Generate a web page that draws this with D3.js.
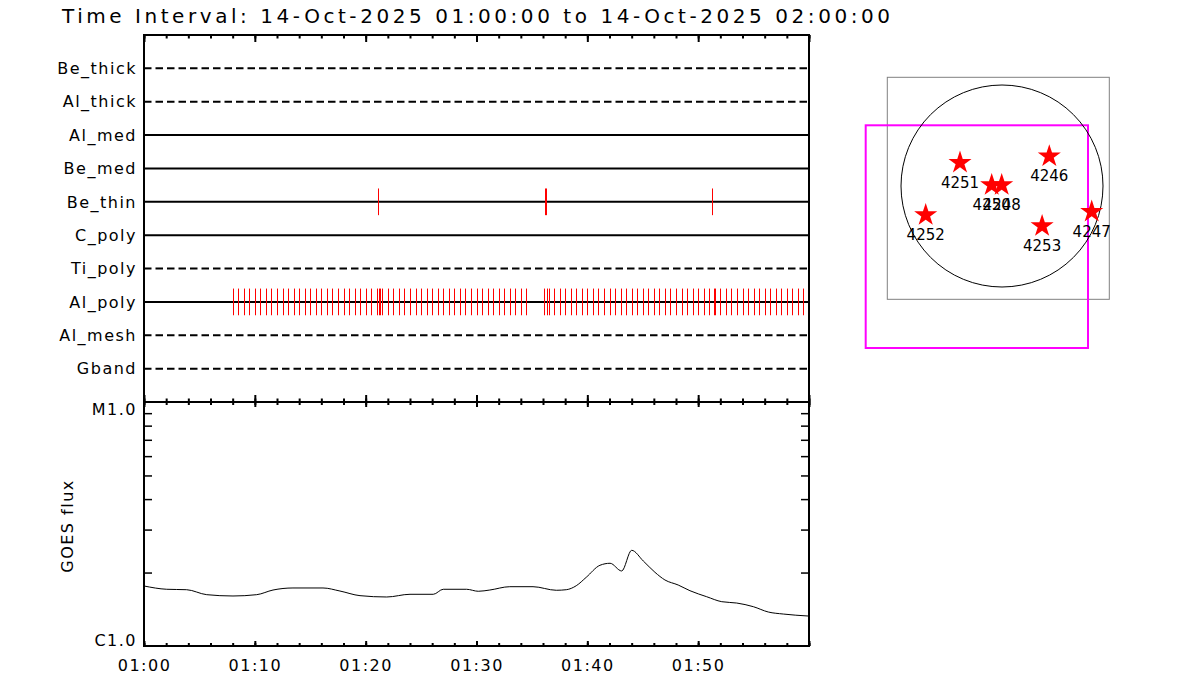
<!DOCTYPE html>
<html><head><meta charset="utf-8">
<script src="https://cdn.jsdelivr.net/npm/d3@7"></script>
<style>
body{margin:0;background:#fff}
svg{display:block}
text{font-family:"DejaVu Sans",sans-serif;fill:#000}
</style>
</head><body>
<svg id="chart" width="1200" height="700"></svg>
<script>
// ---------------- data ----------------
const titleText = "Time Interval: 14-Oct-2025 01:00:00 to 14-Oct-2025 02:00:00";
const startTime = "2025-10-14T01:00:00Z";
const endTime   = "2025-10-14T02:00:00Z";
const timeTickLabels = ["01:00","01:10","01:20","01:30","01:40","01:50"];

const filters     = ["Be_thick","Al_thick","Al_med","Be_med","Be_thin","C_poly","Ti_poly","Al_poly","Al_mesh","Gband"];
const filterWheel = [2, 2, 1, 1, 1, 1, 2, 1, 2, 2];

// observation times, minutes after start
const beThinObs = [21.15, 36.15, 36.23, 51.25];
const alPolyObs = [
  8,8.5,9,9.5,10,10.5,11,11.5,12,12.5,13,13.5,14,14.5,15,15.5,16,16.5,17,17.5,18,18.5,19,19.5,20,20.5,
  21,21.22,21.3,21.5,22,22.5,23,23.5,24,24.5,25,25.5,26,26.5,27,27.5,28,28.5,29,29.5,30,30.5,31,31.5,
  32,32.5,33,33.5,34,34.5,
  36.08,36.35,36.5,37,37.5,38,38.5,39,39.5,40,40.5,41,41.5,42,42.5,43,43.5,44,44.5,45,45.5,46,46.5,
  47,47.5,48,48.5,49,49.5,50,50.5,51,51.42,51.5,52,52.5,53,53.5,54,54.5,55,55.5,56,56.5,57,57.5,58,
  58.5,59,59.5
];

// GOES flux (W/m^2) vs minutes after start
const goesMinutes = [0,2.05,3.85,5.66,8.03,10.17,11.64,13.44,16.15,17.68,19.49,21.9,24.0,26.1,27.0,29.1,30.16,31.2,33.0,35.1,37.2,38.1,39.0,39.9,41.14,42.05,43.1,44.0,45.05,46.1,47.0,48.2,49.26,50.77,52.13,53.48,54.98,56.33,57.68,59.94];
const goesFlux = [1.762e-6,1.708e-6,1.701e-6,1.623e-6,1.603e-6,1.623e-6,1.696e-6,1.729e-6,1.729e-6,1.680e-6,1.608e-6,1.588e-6,1.629e-6,1.629e-6,1.708e-6,1.708e-6,1.676e-6,1.696e-6,1.75e-6,1.75e-6,1.692e-6,1.701e-6,1.766e-6,1.912e-6,2.142e-6,2.183e-6,2.030e-6,2.467e-6,2.230e-6,2.005e-6,1.865e-6,1.778e-6,1.685e-6,1.592e-6,1.519e-6,1.500e-6,1.449e-6,1.378e-6,1.352e-6,1.327e-6];
const goesDomain = [1e-6, 1e-5];
const goesLabelValues = [1e-6, 1e-5];
const goesLabels = ["C1.0", "M1.0"];
const goesMinorTicks = [2e-6,3e-6,4e-6,5e-6,6e-6,7e-6,8e-6,9e-6];
const goesAxisTitle = "GOES flux";

// Sun map (arcsec)
const solarRadius = 997;
const arNumbers = ["4251","4250","4248","4246","4252","4253","4247"];
const arX = [-414.6, -101.7, -3.0, 466.9, -753.2, 395.9, 885.5];
const arY = [239.9, 19.7, 19.7, 303.1, -276.4, -385.0, -243.8];
const fovNames = ["previous", "current"];
const fovX0 = [-1132.3, -1345.5];
const fovX1 = [1059.2, 848.9];
const fovY0 = [-1118.5, -1599.2];
const fovY1 = [1073.0, 599.2];

// ---------------- drawing ----------------
const svg = d3.select("#chart");
const L = 144, R = 809, T = 35, M = 402, B = 646;
const t0 = new Date(startTime), t1 = new Date(endTime);
const toDate = m => new Date(t0.getTime() + m * 60000);
const labelDates = timeTickLabels.map(s => new Date(startTime.slice(0, 11) + s + ":00Z"));

const x = d3.scaleUtc().domain([t0, t1]).range([L, R]);
const yRow = d3.scalePoint().domain(filters).range([T, M]).padding(1);
const yG = d3.scaleLog().domain(goesDomain).range([B, M]);
const halfTick = yRow.step() * 0.4;

// title
svg.append("text").attr("x", 62).attr("y", 23)
  .attr("font-size", 20).attr("textLength", 828).attr("lengthAdjust", "spacing")
  .text(titleText);

// filter rows
const rows = svg.append("g");
filters.forEach((f, i) => {
  rows.append("line")
    .attr("x1", L).attr("x2", R).attr("y1", yRow(f)).attr("y2", yRow(f))
    .attr("stroke", "#000").attr("stroke-width", 2)
    .attr("stroke-dasharray", filterWheel[i] === 2 ? "7.5,4" : null);
  rows.append("text")
    .attr("x", 137).attr("y", yRow(f)).attr("dy", "0.36em")
    .attr("text-anchor", "end").attr("font-size", 16).attr("letter-spacing", 1.5)
    .text(f);
});

function obsTicks(name, times) {
  const yc = yRow(name);
  svg.append("g").selectAll("line").data(times).join("line")
    .attr("x1", d => Math.round(x(toDate(d))) + 0.5)
    .attr("x2", d => Math.round(x(toDate(d))) + 0.5)
    .attr("y1", yc - halfTick).attr("y2", yc + halfTick)
    .attr("stroke", "#ff0000").attr("stroke-width", 1);
}
obsTicks("Be_thin", beThinObs);
obsTicks("Al_poly", alPolyObs);

// GOES curve
const goes = goesMinutes.map((m, i) => ({t: toDate(m), f: goesFlux[i]}));
svg.append("path").datum(goes)
  .attr("fill", "none").attr("stroke", "#000").attr("stroke-width", 1)
  .attr("d", d3.line().x(d => x(d.t)).y(d => yG(d.f)).curve(d3.curveMonotoneX));

// time axes (ticks inward)
const major = d3.utcMinute.every(10), minor = d3.utcMinute.every(2);
function tAxis(gen, y, size, interval) {
  svg.append("g").attr("transform", `translate(0,${y})`)
    .call(gen(x).ticks(interval).tickSize(size).tickFormat(""))
    .call(g => g.select(".domain").remove())
    .call(g => g.selectAll("line").attr("stroke", "#000").attr("stroke-width", 2));
}
tAxis(d3.axisBottom, T, 7, major);
tAxis(d3.axisBottom, T, 3.5, minor);
tAxis(d3.axisTop, M, 7, major);
tAxis(d3.axisTop, M, 3.5, minor);
tAxis(d3.axisBottom, M, 5, major);
tAxis(d3.axisBottom, M, 3, minor);
tAxis(d3.axisTop, B, 5, major);
tAxis(d3.axisTop, B, 3, minor);

// time labels
svg.append("g").attr("transform", `translate(0,${B})`)
  .call(d3.axisBottom(x).tickValues(labelDates).tickSize(0).tickPadding(14)
        .tickFormat((d, i) => timeTickLabels[i]))
  .call(g => g.select(".domain").remove())
  .call(g => g.selectAll("text").attr("font-size", 16).attr("letter-spacing", 1.5)
      .attr("font-family", "DejaVu Sans").attr("fill", "#000"));

// GOES y ticks (left and right, inward)
svg.append("g").attr("transform", `translate(${L},0)`)
  .call(d3.axisRight(yG).tickValues(goesMinorTicks).tickSize(8).tickFormat(""))
  .call(g => g.select(".domain").remove())
  .call(g => g.selectAll("line").attr("stroke", "#000").attr("stroke-width", 1.5));
svg.append("g").attr("transform", `translate(${R},0)`)
  .call(d3.axisLeft(yG).tickValues(goesMinorTicks).tickSize(8).tickFormat(""))
  .call(g => g.select(".domain").remove())
  .call(g => g.selectAll("line").attr("stroke", "#000").attr("stroke-width", 1.5));

goesLabelValues.forEach((v, i) => {
  svg.append("text").attr("x", 137).attr("y", yG(v))
    .attr("dy", i === 0 ? "0em" : "0.82em")
    .attr("text-anchor", "end").attr("font-size", 16).attr("letter-spacing", 1.5)
    .text(goesLabels[i]);
});
svg.append("text")
  .attr("transform", `translate(73,${(M + B) / 2 + 2}) rotate(-90)`)
  .attr("text-anchor", "middle").attr("font-size", 16).attr("letter-spacing", 1.5)
  .text(goesAxisTitle);

// frames
const frame = svg.append("g").attr("fill", "none").attr("stroke", "#000").attr("stroke-width", 2);
frame.append("rect").attr("x", L).attr("y", T).attr("width", R - L).attr("height", M - T);
frame.append("rect").attr("x", L).attr("y", M).attr("width", R - L).attr("height", B - M);

// ---------------- sun map ----------------
const cx = 1002, cy = 186, rpx = 101;
const xMap = d3.scaleLinear().domain([-solarRadius, solarRadius]).range([cx - rpx, cx + rpx]);
const yMap = d3.scaleLinear().domain([-solarRadius, solarRadius]).range([cy + rpx, cy - rpx]);
const fovColor = ["#808080", "#ff00ff"];
const fovWidth = [1, 2];
fovNames.forEach((n, i) => {
  svg.append("rect")
    .attr("x", xMap(fovX0[i])).attr("y", yMap(fovY1[i]))
    .attr("width", xMap(fovX1[i]) - xMap(fovX0[i]))
    .attr("height", yMap(fovY0[i]) - yMap(fovY1[i]))
    .attr("fill", "none").attr("stroke", fovColor[i]).attr("stroke-width", fovWidth[i]);
});
svg.append("circle").attr("cx", xMap(0)).attr("cy", yMap(0))
  .attr("r", xMap(solarRadius) - xMap(0))
  .attr("fill", "none").attr("stroke", "#000").attr("stroke-width", 1);

const star = d3.symbol().type(d3.symbolStar).size(165);
arNumbers.forEach((n, i) => {
  svg.append("path").attr("d", star)
    .attr("transform", `translate(${xMap(arX[i])},${yMap(arY[i]) + 1})`)
    .attr("fill", "#ff0000");
});
arNumbers.forEach((n, i) => {
  svg.append("text").attr("x", xMap(arX[i])).attr("y", yMap(arY[i]) + 26)
    .attr("text-anchor", "middle").attr("font-size", 15)
    .text(n);
});
</script>
</body></html>
